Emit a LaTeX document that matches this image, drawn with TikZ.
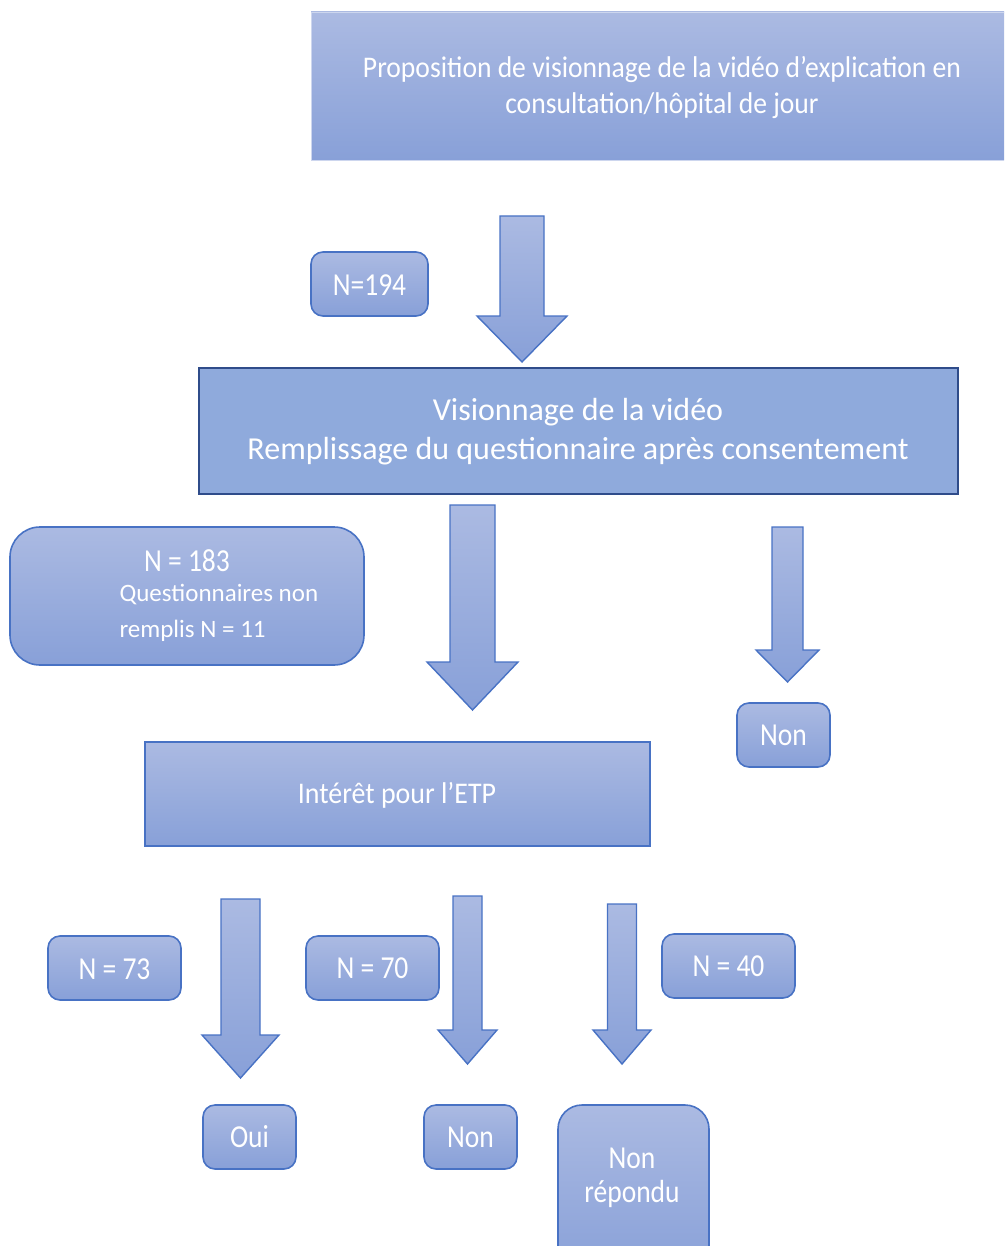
\documentclass[tikz,border=0pt]{standalone}
\usepackage{fontspec}
\setmainfont{Carlito}
\definecolor{fTop}{RGB}{171,186,226}
\definecolor{fBot}{RGB}{136,160,216}
\definecolor{bdr}{RGB}{72,114,196}
\definecolor{navy}{RGB}{47,76,138}
\definecolor{midfill}{RGB}{143,170,220}
\newcommand{\bkarrow}[6]{%
  \draw[arrowsty] (#1-#2,#3) -- (#1+#2,#3) -- (#1+#2,#4) -- (#1+#5,#4) -- (#1,#6) -- (#1-#5,#4) -- (#1-#2,#4) -- cycle;}
\newcommand{\cz}[1]{\scalebox{0.86}[1]{#1}}
\begin{document}
\begin{tikzpicture}[x=1pt,y=-1pt,
  grad/.style={top color=fTop,bottom color=fBot},
  rbox/.style={grad,draw=bdr,line width=1.6pt,rounded corners=12pt},
  lbl/.style={text=white,font=\fontsize{32}{38}\selectfont},
  arrowsty/.style={grad,draw=bdr,line width=1.4pt,line join=miter}]
\useasboundingbox (0,0) rectangle (1004,1246);
\clip (0,0) rectangle (1004,1246);
% top box
\path[grad,draw=fTop!60!white,line width=0.6pt] (311,12) rectangle (1010,160);
\node[text=white,font=\fontsize{30}{36}\selectfont,align=center] (top) at (662,87)
  {\scalebox{0.92}[1]{Proposition de visionnage de la vidéo d’explication en}\\\scalebox{0.92}[1]{consultation/hôpital de jour}};
% arrow 1
\bkarrow{522}{22}{216}{316}{45}{362}
\draw[rbox] (311,252) rectangle (428,316);
\node[lbl] (n194) at (369.5,285) {\cz{N=194}};
% middle box
\draw[fill=midfill,draw=navy,line width=2pt] (199,368) rectangle (958,494);
\node[text=white,font=\fontsize{32}{39}\selectfont,align=center] (vis) at (578,432)
  {Visionnage de la vidéo\\Remplissage du questionnaire après consentement};
% N=183 box
\draw[rbox,rounded corners=30pt] (10,527) rectangle (364,665);
\node[lbl] (n183) at (187,561) {\cz{N = 183}};
\node[text=white,font=\fontsize{25}{36}\selectfont,align=left,anchor=west] (qnr) at (116,613)
  {Questionnaires non\\remplis N = 11};
% arrow 2
\bkarrow{472.5}{22.5}{505}{662}{45.5}{710}
% right arrow
\bkarrow{787.5}{15.5}{527}{650}{31.5}{682}
\draw[rbox] (737,703) rectangle (830,767);
\node[lbl] (non1) at (783.5,735) {\cz{Non}};
% interet box
\draw[grad,draw=bdr,line width=1.4pt] (145,742) rectangle (650,846);
\node[text=white,font=\fontsize{30}{36}\selectfont] (etp) at (397,795) {\scalebox{0.93}[1]{Intérêt pour l’ETP}};
% bottom arrows
\bkarrow{240.5}{19.5}{899}{1035}{38.5}{1078}
\bkarrow{467.5}{14.5}{896}{1030}{29.5}{1064}
\bkarrow{622}{14.5}{904}{1030}{29}{1064}
% N boxes
\draw[rbox] (48,936) rectangle (181,1000);
\node[lbl] (n73) at (114.5,969) {\cz{N = 73}};
\draw[rbox] (306,936) rectangle (439,1000);
\node[lbl] (n70) at (372.5,968) {\cz{N = 70}};
\draw[rbox] (662,934) rectangle (795,998);
\node[lbl] (n40) at (728.5,966) {\cz{N = 40}};
% answer boxes
\draw[rbox] (203,1105) rectangle (296,1169);
\node[lbl] (oui) at (249.5,1137) {\cz{Oui}};
\draw[rbox] (424,1105) rectangle (517,1169);
\node[lbl] (non2) at (470.5,1137) {\cz{Non}};
\draw[rbox,rounded corners=24pt] (558,1105) rectangle (709,1275);
\node[lbl,align=center,font=\fontsize{32}{34}\selectfont] (nr) at (632,1178) {\cz{Non}\\\cz{répondu}};
\end{tikzpicture}
\end{document}
